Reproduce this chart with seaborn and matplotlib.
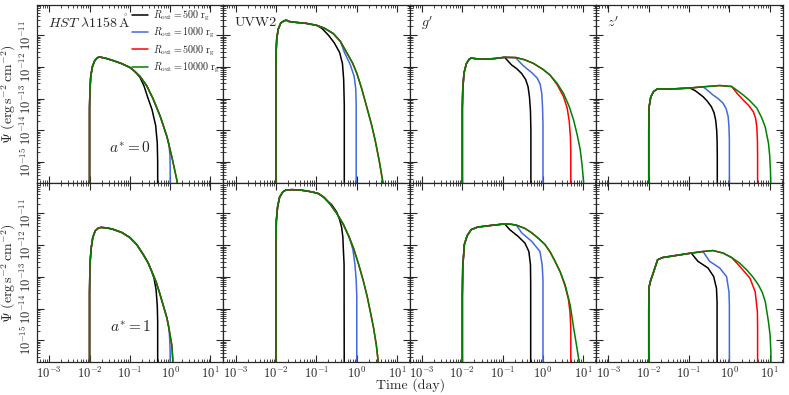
import numpy as np
import pandas as pd
import seaborn as sns
import matplotlib.pyplot as plt
from matplotlib.ticker import LogLocator

# curves, as (log10 t [day], log10 Psi) pairs
# green = R_out 10000 rg (full curve); other curves only store the tail
# where they leave the green curve
hst0_green = [(-2.0, -17), (-2.0, -13.3), (-1.99, -12.73), (-1.97, -12.3), (-1.93, -12.0),
              (-1.87, -11.8), (-1.8, -11.71), (-1.75, -11.69), (-1.6, -11.73), (-1.4, -11.81),
              (-1.2, -11.9), (-1.0, -12.02), (-0.9, -12.12), (-0.75, -12.3), (-0.58, -12.6),
              (-0.42, -13.02), (-0.25, -13.55), (-0.08, -14.2), (0.04, -14.83), (0.12, -15.3),
              (0.17, -15.6), (0.21, -16.2)]
hst0_black = [(-0.85, -12.18), (-0.75, -12.33), (-0.65, -12.6), (-0.56, -12.95), (-0.45, -13.35),
              (-0.36, -13.85), (-0.32, -14.4), (-0.31, -15.0), (-0.31, -17)]
hst0_blue = [(-0.08, -14.2), (-0.03, -14.45), (-0.005, -14.8), (0.0, -15.2), (0.0, -17)]
hst0_red = None

uvw0_green = [(-2.0, -17), (-2.0, -12.2), (-1.995, -11.53), (-1.98, -11.1), (-1.94, -10.8),
              (-1.88, -10.62), (-1.8, -10.55), (-1.74, -10.53), (-1.68, -10.57), (-1.5, -10.6),
              (-1.25, -10.63), (-1.0, -10.69), (-0.8, -10.78), (-0.58, -10.95), (-0.4, -11.2),
              (-0.245, -11.55), (-0.1, -11.88), (0.005, -12.2), (0.13, -12.7), (0.255, -13.28),
              (0.37, -13.82), (0.46, -14.31), (0.56, -14.95), (0.655, -15.66), (0.7, -16.1)]
uvw0_black = [(-0.97, -10.7), (-0.85, -10.8), (-0.7, -11.0), (-0.55, -11.25), (-0.42, -11.55),
              (-0.35, -11.9), (-0.32, -12.4), (-0.305, -13.2), (-0.305, -17)]
uvw0_blue = [(-0.4, -11.2), (-0.3, -11.55), (-0.16, -11.92), (-0.06, -12.3), (-0.02, -12.7),
             (-0.01, -13.2), (-0.01, -17)]
uvw0_red = None

g0_green = [(-2.0, -17), (-2.0, -13.3), (-1.99, -12.73), (-1.96, -12.2), (-1.9, -11.9),
            (-1.83, -11.76), (-1.78, -11.72), (-1.7, -11.74), (-1.5, -11.76), (-1.2, -11.74),
            (-0.95, -11.70), (-0.66, -11.71), (-0.45, -11.78), (-0.24, -11.89), (0.0, -12.08),
            (0.175, -12.26), (0.35, -12.52), (0.51, -12.84), (0.65, -13.25), (0.76, -13.68),
            (0.85, -14.15), (0.925, -14.62), (0.97, -15.1), (1.01, -15.67), (1.03, -16.2)]
g0_black = [(-0.95, -11.70), (-0.88, -11.8), (-0.78, -11.94), (-0.65, -12.06), (-0.53, -12.21),
            (-0.43, -12.4), (-0.37, -12.63), (-0.335, -12.95), (-0.31, -13.4), (-0.30, -14.0),
            (-0.30, -17)]
g0_blue = [(-0.675, -11.71), (-0.6, -11.82), (-0.5, -11.95), (-0.41, -12.05), (-0.28, -12.18),
           (-0.14, -12.36), (-0.07, -12.55), (-0.03, -12.84), (-0.01, -13.3), (0.0, -13.8),
           (0.0, -17)]
g0_red = [(0.175, -12.26), (0.35, -12.56), (0.51, -12.94), (0.6, -13.3), (0.65, -13.7),
          (0.68, -14.2), (0.69, -14.7), (0.69, -17)]

z0_green = [(-2.0, -17), (-2.0, -14.0), (-1.99, -13.26), (-1.95, -12.95), (-1.88, -12.78),
            (-1.78, -12.69), (-1.6, -12.70), (-1.3, -12.69), (-0.99, -12.67), (-0.65, -12.63),
            (-0.24, -12.59), (0.055, -12.62), (0.2, -12.75), (0.345, -12.89), (0.5, -13.06),
            (0.68, -13.3), (0.8, -13.6), (0.89, -13.9), (0.97, -14.41), (1.0, -14.8),
            (1.02, -15.3), (1.03, -15.8), (1.03, -17)]
z0_black = [(-0.98, -12.67), (-0.85, -12.75), (-0.655, -12.94), (-0.55, -13.08), (-0.445, -13.26),
            (-0.38, -13.45), (-0.34, -13.68), (-0.315, -14.0), (-0.305, -14.3), (-0.30, -14.8),
            (-0.30, -17)]
z0_blue = [(-0.655, -12.63), (-0.55, -12.73), (-0.405, -12.89), (-0.28, -13.0), (-0.155, -13.15),
           (-0.08, -13.32), (-0.03, -13.57), (-0.01, -13.9), (0.0, -14.3), (0.0, -17)]
z0_red = [(0.055, -12.62), (0.2, -12.85), (0.345, -13.05), (0.48, -13.22), (0.595, -13.42),
          (0.65, -13.62), (0.68, -13.89), (0.695, -14.3), (0.70, -14.8), (0.70, -17)]

hst1_green = [(-2.0, -17), (-2.0, -13.5), (-1.99, -12.61), (-1.96, -12.1), (-1.92, -11.76),
              (-1.86, -11.55), (-1.78, -11.46), (-1.71, -11.44), (-1.55, -11.46), (-1.42, -11.5),
              (-1.2, -11.6), (-1.0, -11.76), (-0.83, -11.98), (-0.67, -12.29), (-0.55, -12.55),
              (-0.46, -12.82), (-0.35, -13.15), (-0.25, -13.56), (-0.16, -13.95), (-0.08, -14.3),
              (-0.02, -14.7), (0.04, -15.15), (0.07, -15.7), (0.08, -16.2)]
hst1_black = [(-0.46, -12.82), (-0.4, -13.05), (-0.35, -13.4), (-0.32, -13.9), (-0.31, -14.4),
              (-0.31, -17)]
hst1_blue = [(-0.08, -14.3), (-0.03, -14.6), (-0.01, -15.0), (0.0, -15.4), (0.0, -17)]
hst1_red = None

uvw1_green = [(-2.0, -17), (-2.0, -12.0), (-1.99, -11.23), (-1.96, -10.8), (-1.91, -10.49),
              (-1.83, -10.32), (-1.75, -10.26), (-1.6, -10.25), (-1.41, -10.26), (-1.2, -10.3),
              (-1.08, -10.33), (-0.955, -10.37), (-0.8, -10.5), (-0.66, -10.70), (-0.5, -10.98),
              (-0.33, -11.34), (-0.2, -11.7), (-0.08, -12.08), (0.05, -12.6), (0.17, -13.14),
              (0.26, -13.6), (0.34, -14.09), (0.42, -14.6), (0.49, -15.15), (0.53, -15.6),
              (0.56, -16.1)]
uvw1_black = [(-0.955, -10.37), (-0.85, -10.45), (-0.745, -10.58), (-0.62, -10.72),
              (-0.495, -10.95), (-0.42, -11.2), (-0.37, -11.44), (-0.34, -11.75), (-0.33, -12.08),
              (-0.31, -12.6), (-0.305, -17)]
uvw1_blue = [(-0.2, -11.7), (-0.15, -11.88), (-0.09, -12.15), (-0.04, -12.61), (-0.01, -13.1),
             (0.005, -13.6), (0.005, -17)]
uvw1_red = None

g1_green = [(-2.0, -17), (-2.0, -13.6), (-1.99, -12.7), (-1.95, -11.98), (-1.88, -11.7),
            (-1.78, -11.51), (-1.62, -11.43), (-1.3, -11.38), (-0.95, -11.33), (-0.8, -11.34),
            (-0.66, -11.37), (-0.45, -11.47), (-0.28, -11.61), (-0.1, -11.8), (0.05, -11.98),
            (0.18, -12.22), (0.30, -12.51), (0.43, -12.85), (0.55, -13.25), (0.675, -13.89),
            (0.76, -14.6), (0.85, -15.3), (0.9, -15.7), (0.93, -16.1)]
g1_black = [(-0.95, -11.33), (-0.825, -11.51), (-0.62, -11.72), (-0.45, -11.93), (-0.35, -12.2),
            (-0.31, -12.62), (-0.305, -13.2), (-0.305, -17)]
g1_blue = [(-0.66, -11.37), (-0.53, -11.61), (-0.28, -11.88), (-0.075, -12.2), (-0.02, -12.62),
           (0.0, -13.1), (0.0, -17)]
g1_red = [(0.43, -12.85), (0.55, -13.3), (0.63, -13.7), (0.67, -14.1), (0.69, -14.6), (0.69, -17)]

z1_green = [(-2.0, -17), (-2.0, -14.0), (-1.99, -13.31), (-1.95, -13.1), (-1.905, -12.94),
            (-1.78, -12.46), (-1.655, -12.39), (-1.3, -12.32), (-0.945, -12.25), (-0.655, -12.20),
            (-0.405, -12.17), (-0.155, -12.25), (0.055, -12.39), (0.25, -12.56), (0.43, -12.78),
            (0.58, -13.0), (0.72, -13.25), (0.82, -13.5), (0.89, -13.78), (0.97, -14.42),
            (1.01, -14.84), (1.03, -15.4), (1.035, -17)]
z1_black = [(-0.945, -12.25), (-0.78, -12.51), (-0.53, -12.72), (-0.39, -12.99), (-0.32, -13.36),
            (-0.305, -13.8), (-0.305, -17)]
z1_blue = [(-0.655, -12.20), (-0.49, -12.51), (-0.24, -12.72), (-0.07, -12.99), (-0.01, -13.47),
           (0.0, -13.9), (0.0, -17)]
z1_red = [(0.055, -12.39), (0.26, -12.67), (0.51, -13.04), (0.64, -13.47), (0.695, -14.1),
          (0.70, -14.6), (0.70, -17)]

band_labels = [r"$HST\ \lambda1158\,\mathring{\mathrm{A}}$", "UVW2", r"$g'$", r"$z'$"]
spin_labels = [r"$a^{*}=0$", r"$a^{*}=1$"]
rout_labels = [r"$R_{\rm out}=500\ {\rm r_g}$", r"$R_{\rm out}=1000\ {\rm r_g}$",
               r"$R_{\rm out}=5000\ {\rm r_g}$", r"$R_{\rm out}=10000\ {\rm r_g}$"]
colors = ["black", "royalblue", "red", "green"]

panels = [
    [(hst0_black, hst0_blue, hst0_red, hst0_green), (uvw0_black, uvw0_blue, uvw0_red, uvw0_green),
     (g0_black, g0_blue, g0_red, g0_green), (z0_black, z0_blue, z0_red, z0_green)],
    [(hst1_black, hst1_blue, hst1_red, hst1_green), (uvw1_black, uvw1_blue, uvw1_red, uvw1_green),
     (g1_black, g1_blue, g1_red, g1_green), (z1_black, z1_blue, z1_red, z1_green)],
]


def full_curve(tail, green):
    # follow the green curve up to where the tail leaves it
    if tail is None:
        pts = green
    else:
        pts = [p for p in green if p[0] < tail[0][0]] + tail
    arr = np.array(pts, dtype=float)
    return pd.DataFrame({"t": 10 ** arr[:, 0], "psi": 10 ** arr[:, 1]})


sns.set_style("ticks")
plt.rcParams["font.family"] = "serif"
plt.rcParams["font.serif"] = ["cmr10", "DejaVu Serif"]
plt.rcParams["mathtext.fontset"] = "cm"
plt.rcParams["axes.formatter.use_mathtext"] = True
plt.rcParams["axes.unicode_minus"] = False

fig, axes = plt.subplots(2, 4, figsize=(7.89, 3.95), dpi=100, sharex=True, sharey=True)
fig.subplots_adjust(left=0.047, right=0.992, top=0.987, bottom=0.084, wspace=0, hspace=0)

for r in range(2):
    for c in range(4):
        ax = axes[r, c]
        ax.set_xscale("log")
        ax.set_yscale("log")
        curves = panels[r][c]
        green = curves[3]
        for k in range(4):
            df = full_curve(curves[k] if k < 3 else None, green)
            sns.lineplot(data=df, x="t", y="psi", ax=ax, color=colors[k], lw=1.1,
                         sort=False, estimator=None,
                         label=rout_labels[k] if (r == 0 and c == 0) else None)
        ax.set_xlim(5e-4, 2.1e1)
        ax.set_ylim(2.1e-16, 8.8e-11)
        ax.xaxis.set_major_locator(LogLocator(base=10, numticks=20))
        ax.xaxis.set_minor_locator(LogLocator(base=10, subs=np.arange(2, 10), numticks=100))
        ax.yaxis.set_major_locator(LogLocator(base=10, numticks=20))
        ax.yaxis.set_minor_locator(LogLocator(base=10, subs=np.arange(2, 10), numticks=100))
        ax.tick_params(which="both", direction="in", top=True, right=True, labelsize=9)
        ax.tick_params(which="major", length=5, width=0.8)
        ax.tick_params(which="minor", length=2.5, width=0.6)
        ax.tick_params(axis="y", labelrotation=90, pad=2)
        ax.tick_params(axis="x", pad=3)
        for lab in ax.get_yticklabels():
            lab.set_va("center")
        ax.set_xlabel("")
        ax.set_ylabel("")
        if r == 0:
            ax.text(0.06, 0.9, band_labels[c], transform=ax.transAxes, fontsize=10,
                    va="center", ha="left")
        if c == 0:
            ax.text(0.5, 0.2, spin_labels[r], transform=ax.transAxes, fontsize=11,
                    va="center", ha="center")
            ax.set_ylabel(r"$\Psi\ ({\rm erg\,s^{-2}\,cm^{-2}})$", fontsize=10)
            ax.yaxis.set_label_coords(-0.1, 0.5)
        for sp in ax.spines.values():
            sp.set_linewidth(0.9)

leg = axes[0, 0].legend(loc="upper right", bbox_to_anchor=(1.02, 1.02), fontsize=7.2,
                        frameon=False, handlelength=1.6, labelspacing=0.3,
                        borderaxespad=0.3, handletextpad=0.5)
for line in leg.get_lines():
    line.set_linewidth(1.1)

fig.text(0.52, 0.025, "Time (day)", ha="center", va="center", fontsize=10)

fig.savefig("out.png", dpi=100)
